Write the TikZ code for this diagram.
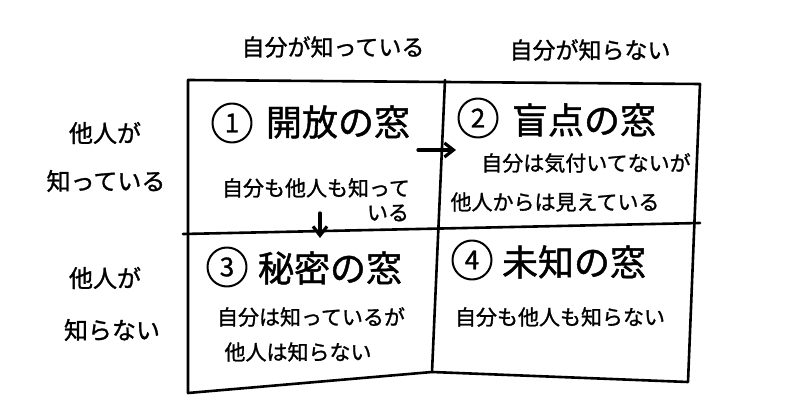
\documentclass[tikz,border=0pt]{standalone}
\usepackage{fontspec}
\setmainfont{Noto Sans CJK JP}[FakeBold=1.2]
\usetikzlibrary{arrows.meta}
\begin{document}
\begin{tikzpicture}[x=1pt,y=-1pt, line cap=round, line join=round,
  title/.style={font=\fontsize{36}{38}\selectfont, inner sep=0pt, anchor=center},
  body/.style={font=\fontsize{21}{24}\selectfont, inner sep=0pt, anchor=center},
  head/.style={font=\fontsize{23}{26}\selectfont, inner sep=0pt, anchor=center},
  side/.style={font=\fontsize{24}{26}\selectfont, inner sep=0pt, anchor=center},
  num/.style={circle, draw, line width=2pt, minimum size=39pt, inner sep=0pt, font=\fontsize{26}{28}\selectfont},
  frame/.style={line width=2.6pt},
  arr/.style={line width=3.2pt, -{Straight Barb[length=9pt,width=14pt]}}]
\useasboundingbox[fill=white] (0,0) rectangle (800,419);
% frame corners
\coordinate (TL) at (188,80);
\coordinate (TR) at (700,84);
\coordinate (BR) at (688,382);
\coordinate (BL) at (188,393);
\coordinate (BM) at (432,372);
\coordinate (TM) at (445,80);
\coordinate (ML) at (183,234);
\coordinate (MR) at (700,223);
\draw[frame] (TL) -- (TR) -- (BR) -- (BM) -- (BL) -- cycle;
\draw[frame] (TM) -- (BM);
\draw[frame] (ML) -- (MR);
% headers
\node[head] (h1) at (333,47) {自分が知っている};
\node[head] (h2) at (590,50) {自分が知らない};
\node[side] (s1) at (105,133) {他人が};
\node[side] (s2) at (106,181) {知っている};
\node[side] (s3) at (105,278) {他人が};
\node[side] (s4) at (112,330) {知らない};
% quadrant 1
\node[num] (n1) at (232,123) {1};
\node[title] (t1) at (338,122) {開放の窓};
\node[body] (b1a) at (316,188) {自分も他人も知って};
\node[body] (b1b) at (388,213) {いる};
% quadrant 2
\node[num] (n2) at (478,118) {2};
\node[title] (t2) at (584,120) {盲点の窓};
\node[body] (b2a) at (586,163) {自分は気付いてないが};
\node[body] (b2b) at (555,202) {他人からは見えている};
% quadrant 3
\node[num] (n3) at (227,267) {3};
\node[title] (t3) at (330,268) {秘密の窓};
\node[body] (b3a) at (311,317) {自分は知っているが};
\node[body] (b3b) at (298,352) {他人は知らない};
% quadrant 4
\node[num] (n4) at (472,260) {4};
\node[title] (t4) at (574,262) {未知の窓};
\node[body] (b4a) at (560,317) {自分も他人も知らない};
% arrows
\coordinate (a1s) at (418,150);
\coordinate (a1e) at (456,150);
\coordinate (a2s) at (320,213);
\coordinate (a2e) at (320,238);
\draw[arr] (a1s) -- (a1e);
\draw[arr] (a2s) -- (a2e);
\end{tikzpicture}
\end{document}
